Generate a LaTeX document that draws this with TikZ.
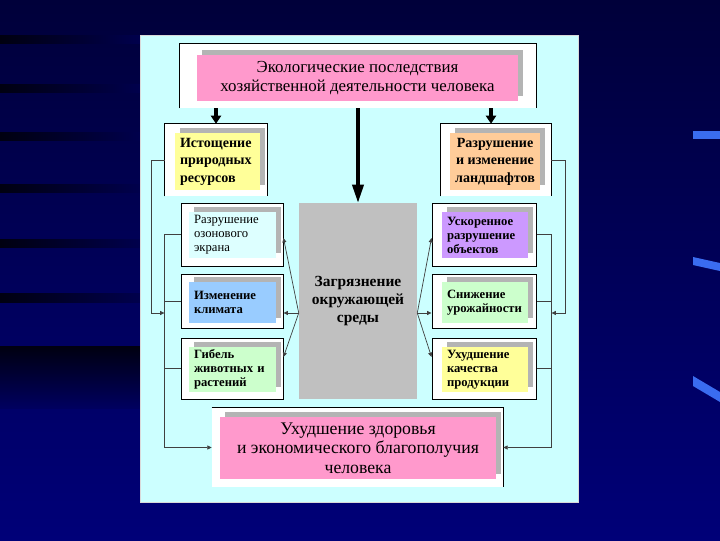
\documentclass[tikz,border=0pt]{standalone}
\usepackage{fontspec}
\setmainfont{Liberation Serif}
\usetikzlibrary{arrows.meta,shadows}

\newlength{\pix}
\setlength{\pix}{0.025cm}

\definecolor{bgtop}{HTML}{00003A}
\definecolor{bgbot}{HTML}{000078}
\definecolor{stripec}{HTML}{000010}
\definecolor{dashc}{HTML}{3A6CF0}
\definecolor{panelc}{HTML}{CCFFFF}
\definecolor{pinkc}{HTML}{FF99CC}
\definecolor{yellowc}{HTML}{FFFF99}
\definecolor{peachc}{HTML}{FFCC99}
\definecolor{icec}{HTML}{DDFFFF}
\definecolor{bluec}{HTML}{99CCFF}
\definecolor{greenc}{HTML}{CCFFCC}
\definecolor{lilacc}{HTML}{CC99FF}
\definecolor{grayc}{HTML}{C0C0C0}
\definecolor{shadowc}{HTML}{B4B4B4}

\newcommand{\headfont}{\fontsize{12}{13.5}\selectfont}
\newcommand{\footfont}{\fontsize{12.6}{14}\selectfont}
\newcommand{\sidefont}{\fontsize{10}{12.4}\selectfont\bfseries}
\newcommand{\cardfont}{\fontsize{9}{10}\selectfont}
\newcommand{\midfont}{\fontsize{11}{13}\selectfont\bfseries}

\tikzset{
  frame/.style={fill=white, inner sep=0pt},
  card/.style={inner sep=0pt, inner xsep=5\pix, drop shadow={shadow xshift=0.125cm, shadow yshift=0.125cm, fill=shadowc, opacity=1}},
  bigarrow/.style={line width=2.2pt, -{Triangle[length=0.2cm, width=0.25cm]}},
  link/.style={line width=0.5pt, black!75},
  tip/.style={link, -{Triangle[length=0.11cm, width=0.1cm]}},
}

\begin{document}
\begin{tikzpicture}[x=0.025cm, y=-0.025cm]
  \useasboundingbox (0,0) rectangle (720,540);

  % slide background
  \shade[top color=bgtop, bottom color=bgbot] (0,0) rectangle (720,540);
  \foreach \y/\h in {35/8, 84/8, 132/8, 184/8, 239/8, 293/9}
    \shade[left color=stripec, right color=bgtop!70!bgbot] (0,\y) rectangle (140,\y+\h);
  \shade[top color=stripec, bottom color=bgtop!40!bgbot] (0,346) rectangle (140,408);

  % blue dashes on the right
  \fill[dashc] (693,131) rectangle (720,139);
  \fill[dashc] (693,257) -- (720,263) -- (720,271) -- (693,265) -- cycle;
  \fill[dashc] (693,376) -- (720,392) -- (720,402) -- (693,386) -- cycle;

  % light panel
  \fill[panelc, draw=white!70!gray] (140,35) rectangle (578,502);

  % top block
  \node[frame, minimum width=356\pix, minimum height=64\pix] (topF) at (358,76) {};
  \draw[line width=0.7pt] (topF.south west) -- (topF.north west) -- (topF.north east) -- (topF.south east);
  \node[card, fill=pinkc, minimum width=321\pix, minimum height=46\pix, align=center, font=\headfont] (top) at (357.5,78)
    {Экологические последствия\\хозяйственной деятельности человека};

  % resources and landscapes
  \node[frame, minimum width=102\pix, minimum height=72\pix] (resF) at (216,160) {};
  \draw[line width=0.7pt] (resF.south west) -- (resF.north west) -- (resF.north east) -- (resF.south east);
  \node[card, fill=yellowc, minimum width=85\pix, minimum height=57\pix, text width=75\pix, align=left, font=\sidefont] (res) at (217.5,161.5)
    {Истощение\\природных\\ресурсов};

  \node[frame, minimum width=110\pix, minimum height=72\pix] (landF) at (496,160) {};
  \draw[line width=0.7pt] (landF.south west) -- (landF.north west) -- (landF.north east) -- (landF.south east);
  \node[card, fill=peachc, minimum width=90\pix, minimum height=57\pix, align=center, font=\sidefont] (land) at (495,161.5)
    {Разрушение\\и изменение\\ландшафтов};

  % pollution
  \node[fill=grayc, minimum width=118\pix, minimum height=196\pix, align=center, font=\midfont] (pollution) at (358,301)
    {Загрязнение\\окружающей\\среды};

  % left column
  \node[frame, draw, line width=0.7pt, minimum width=102\pix, minimum height=63\pix] (ozoneF) at (232,234.5) {};
  \node[frame, draw, line width=0.7pt, minimum width=102\pix, minimum height=54\pix] (climateF) at (232,301) {};
  \node[frame, draw, line width=0.7pt, minimum width=102\pix, minimum height=61\pix] (lifeF) at (232,368.5) {};
  \node[card, fill=icec, minimum width=87\pix, minimum height=46\pix, text width=77\pix, align=left, font=\cardfont] (ozone) at (232.5,235)
    {Разрушение\\озонового\\экрана};
  \node[card, fill=bluec, minimum width=87\pix, minimum height=41\pix, text width=77\pix, align=left, font=\cardfont\bfseries] (climate) at (232.5,302.5)
    {Изменение\\климата};
  \node[card, fill=greenc, minimum width=87\pix, minimum height=45\pix, text width=77\pix, align=left, font=\cardfont\bfseries] (life) at (232.5,369.5)
    {Гибель\\животных и\\растений};

  % right column
  \node[frame, draw, line width=0.7pt, minimum width=104\pix, minimum height=63\pix] (decayF) at (484,234.5) {};
  \node[frame, draw, line width=0.7pt, minimum width=104\pix, minimum height=54\pix] (harvestF) at (484,301) {};
  \node[frame, draw, line width=0.7pt, minimum width=104\pix, minimum height=61\pix] (qualityF) at (484,368.5) {};
  \node[card, fill=lilacc, minimum width=86\pix, minimum height=46\pix, text width=76\pix, align=left, font=\cardfont\bfseries] (decay) at (485,235)
    {Ускоренное\\разрушение\\объектов};
  \node[card, fill=greenc, minimum width=86\pix, minimum height=41\pix, text width=76\pix, align=left, font=\cardfont\bfseries] (harvest) at (485,302.5)
    {Снижение\\урожайности};
  \node[card, fill=yellowc, minimum width=86\pix, minimum height=45\pix, text width=76\pix, align=left, font=\cardfont\bfseries] (quality) at (485,369.5)
    {Ухудшение\\качества\\продукции};

  % bottom block
  \node[frame, minimum width=291\pix, minimum height=79\pix] (healthF) at (357.5,447.5) {};
  \draw[line width=0.7pt] (healthF.north west) -- (healthF.north east) -- (healthF.south east);
  \node[card, fill=pinkc, minimum width=276\pix, minimum height=62\pix, align=center, font=\footfont] (health) at (358,448)
    {Ухудшение здоровья\\и экономического благополучия\\человека};

  % arrows from the top block
  \draw[bigarrow] (topF.south -| resF.north) -- (resF.north);
  \draw[bigarrow, -{Triangle[length=0.45cm, width=0.28cm]}] (topF.south) -- (pollution.north);
  \draw[bigarrow] (topF.south -| 491,0) -- (landF.north -| 491,0);

  % arrows from pollution
  \foreach \t/\y in {ozoneF/238, climateF/313, lifeF/357}
    \draw[tip] (pollution.west |- 0,313) -- (\t.east |- 0,\y);
  \foreach \t/\y in {decayF/238, harvestF/313, qualityF/357}
    \draw[tip] (pollution.east |- 0,313) -- (\t.west |- 0,\y);

  % left feedback lines
  \draw[link] (ozoneF.west) -- ++(-16,0) coordinate (lb1) -- (lb1 |- healthF.west) coordinate (lb2);
  \draw[link] (climateF.west) -- (climateF.west -| lb1);
  \draw[link] (lifeF.west) -- (lifeF.west -| lb1);
  \draw[tip] (resF.west) -- ++(-13,0) |- (lb1 |- 0,313);
  \draw[tip] (lb2) -- (healthF.west);

  % right feedback lines
  \draw[link] (decayF.east) -- ++(15,0) coordinate (rb1) -- (rb1 |- healthF.east) coordinate (rb2);
  \draw[link] (harvestF.east) -- (harvestF.east -| rb1);
  \draw[link] (qualityF.east) -- (qualityF.east -| rb1);
  \draw[tip] (landF.east) -- ++(14,0) |- (rb1 |- 0,313);
  \draw[tip] (rb2) -- (healthF.east);
\end{tikzpicture}
\end{document}
